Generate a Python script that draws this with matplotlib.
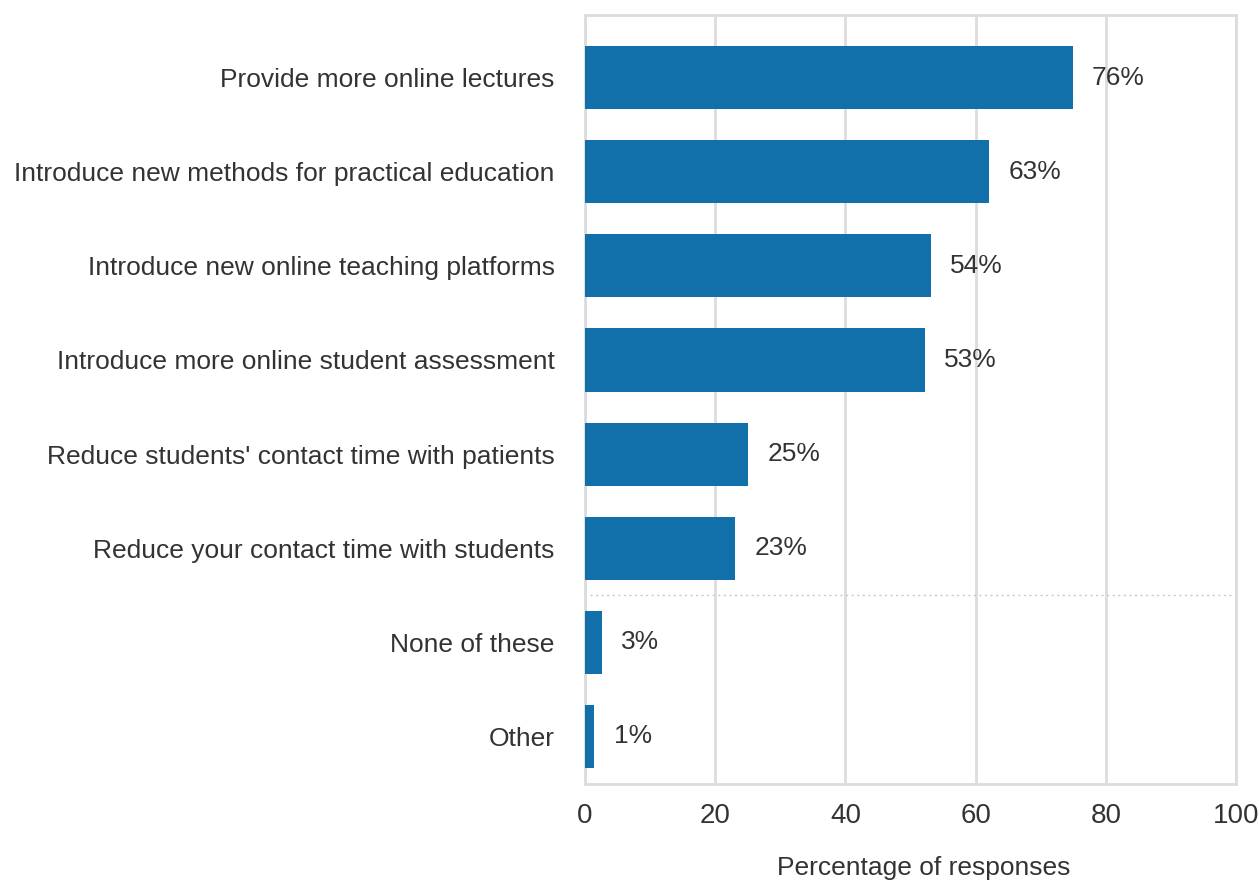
import matplotlib
matplotlib.use("Agg")
import matplotlib.pyplot as plt

# Dane
categories = [
    "Provide more online lectures",
    "Introduce new methods for practical education",
    "Introduce new online teaching platforms",
    "Introduce more online student assessment",
    "Reduce students' contact time with patients",
    "Reduce your contact time with students",
    "None of these",
    "Other",
]
values = [74.9, 62.1, 53.1, 52.2, 25.0, 23.0, 2.6, 1.4]
value_labels = ["76%", "63%", "54%", "53%", "25%", "23%", "3%", "1%"]
x_ticks = [0, 20, 40, 60, 80, 100]

plt.rcParams['font.family'] = ['Liberation Sans', 'DejaVu Sans']
text_color = '#333333'
grid_color = '#dcdcdc'
bar_color = '#1170aa'

fig = plt.figure(figsize=(12.59, 8.84), dpi=100)
ax = fig.add_axes([0.4647, 0.1131, 0.5170, 0.8699])

y = list(range(len(categories)))
ax.barh(y, values, height=0.67, color=bar_color, zorder=3)

# Etykiety wartości przy słupkach
for yi, v, lab in zip(y, values, value_labels):
    ax.annotate(lab, (v, yi), xytext=(14, 0), textcoords='offset points',
                va='center', ha='left', fontsize=19, color=text_color)

# Linia oddzielająca "None of these" / "Other"
ax.axhline(5.5, xmin=0.008, xmax=1, ls=(0, (1.5, 2.5)), color='#c8c8c8', lw=1, zorder=2)

ax.set_xlim(0, 100)
ax.set_ylim(7.505, -0.665)
ax.set_xticks(x_ticks)
ax.set_yticks(y)
ax.set_yticklabels(categories, fontsize=19, color=text_color)
ax.tick_params(axis='y', length=0, pad=22)
ax.tick_params(axis='x', length=0, pad=14, labelsize=20, labelcolor=text_color)
ax.xaxis.grid(True, color=grid_color, lw=2, zorder=0)
ax.set_xlabel("Percentage of responses", fontsize=19, color=text_color)
ax.xaxis.set_label_coords(0.52, -0.093)

for s in ax.spines.values():
    s.set_color(grid_color)
    s.set_linewidth(2)

fig.savefig("out.png", dpi=100)
